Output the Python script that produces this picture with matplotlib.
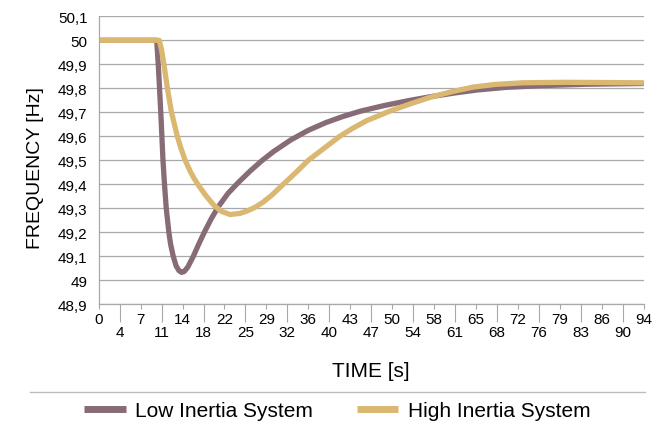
import matplotlib
matplotlib.use("Agg")
import matplotlib.pyplot as plt
from matplotlib.lines import Line2D

plt.rcParams['font.family'] = ['Liberation Sans', 'DejaVu Sans']

# data
low_t = [0, 9.96, 10.3, 10.7, 11.04, 11.3, 11.6, 12.05, 12.35, 12.8, 13.3,
         13.8, 14.25, 14.7, 15.3, 16.25, 17.2, 18.2, 19.3, 20.5, 22.2, 24.0,
         26.0, 28.0, 30.0, 33.0, 36.0, 39.0, 42.0, 45.0, 49.0, 53.5, 57.0,
         61.0, 65.0, 70.0, 75.8, 84.0, 93.6]
low_f = [50.0, 50.0, 49.87, 49.68, 49.5, 49.4, 49.3, 49.2, 49.15, 49.1, 49.06,
         49.04, 49.033, 49.037, 49.055, 49.1, 49.152, 49.203, 49.255, 49.305, 49.362, 49.408,
         49.455, 49.498, 49.536, 49.585, 49.625, 49.657, 49.683, 49.705, 49.728, 49.75, 49.765,
         49.78, 49.793, 49.804, 49.811, 49.817, 49.82]

high_t = [0, 10.4, 10.8, 11.2, 11.8, 12.5, 13.5, 14.1, 14.8, 15.7, 16.4,
          17.1, 18.4, 19.7, 21.0, 22.55, 24.3, 25.5, 26.85, 28.2, 29.6, 31.7,
          33.9, 36.0, 38.7, 41.4, 43.6, 46.0, 50.0, 53.5, 57.0, 61.0, 64.3,
          68.0, 72.9, 80.0, 93.6]
high_f = [50.0, 50.0, 49.96, 49.9, 49.8, 49.7, 49.6, 49.552, 49.503, 49.455, 49.424,
          49.397, 49.353, 49.315, 49.288, 49.274, 49.279, 49.289, 49.304, 49.325, 49.352, 49.4,
          49.45, 49.5, 49.55, 49.6, 49.633, 49.665, 49.705, 49.735, 49.763, 49.788, 49.805,
          49.816, 49.823, 49.825, 49.823]

time_labels = ["0", "4", "7", "11", "14", "18", "22", "25", "29", "32", "36",
               "40", "43", "47", "50", "54", "58", "61", "65", "68", "72", "76",
               "79", "83", "86", "90", "94"]
time_step = 3.6

freq_ticks = [48.9, 49.0, 49.1, 49.2, 49.3, 49.4, 49.5, 49.6, 49.7, 49.8, 49.9, 50.0, 50.1]
freq_labels = ["48,9", "49", "49,1", "49,2", "49,3", "49,4", "49,5", "49,6",
               "49,7", "49,8", "49,9", "50", "50,1"]

purple = "#876b77"
gold = "#dbb871"
grey = "#a8a8a8"

fig = plt.figure(figsize=(6.62, 4.27), dpi=100, facecolor='w')
ax = fig.add_axes([98.7 / 662, 1 - 305.3 / 427, 545 / 662, 288 / 427])

ax.plot(low_t, low_f, color=purple, linewidth=3.8, label="Low Inertia System",
        solid_capstyle='butt', solid_joinstyle='round')
ax.plot(high_t, high_f, color=gold, linewidth=3.8, label="High Inertia System",
        solid_capstyle='butt', solid_joinstyle='round')

ax.set_xlim(0, time_step * (len(time_labels) - 1))
ax.set_ylim(48.9, 50.1)

# two rows of time labels: even ones short ticks, odd ones long ticks
major_pos = [i * time_step for i in range(0, len(time_labels), 2)]
minor_pos = [i * time_step for i in range(1, len(time_labels), 2)]
ax.set_xticks(major_pos, time_labels[0::2])
ax.set_xticks(minor_pos, time_labels[1::2], minor=True)
ax.tick_params(axis='x', which='major', length=3.6, width=0.8, color=grey,
               pad=2, labelsize=11)
ax.tick_params(axis='x', which='minor', length=13, width=0.8, color=grey,
               pad=2, labelsize=11)

ax.set_yticks(freq_ticks, freq_labels)
ax.tick_params(axis='y', length=0, pad=8, labelsize=11)

ax.grid(True, axis='y', color=grey, linewidth=0.9)
ax.set_axisbelow(True)
for s in ['top', 'right']:
    ax.spines[s].set_visible(False)
for s in ['left', 'bottom']:
    ax.spines[s].set_color(grey)
    ax.spines[s].set_linewidth(0.9)

fig.text(36 / 662, 1 - 168.5 / 427, "FREQUENCY [Hz]", rotation=90,
         ha='center', va='center', fontsize=14)
fig.text(371 / 662, 1 - 371.5 / 427, "TIME [s]", ha='center', va='center',
         fontsize=15)

# separator above the legend
fig.add_artist(Line2D([30 / 662, 645 / 662], [1 - 392.5 / 427, 1 - 392.5 / 427],
                      transform=fig.transFigure, color="#bdbdbd", linewidth=1))

leg = ax.legend(loc='center', bbox_to_anchor=(337 / 662, 1 - 412 / 427),
                bbox_transform=fig.transFigure, ncol=2, frameon=False,
                fontsize=15, handlelength=2.0, handletextpad=0.45,
                columnspacing=2.1, borderpad=0)
for h in leg.get_lines():
    h.set_linewidth(5)

fig.savefig("out.png", dpi=100)
